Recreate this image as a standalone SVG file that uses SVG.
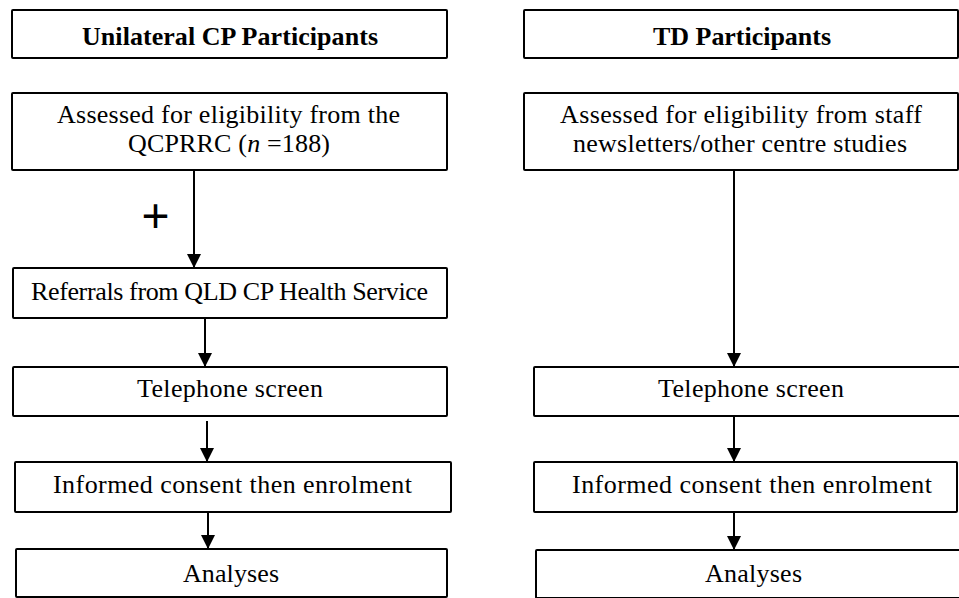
<svg xmlns="http://www.w3.org/2000/svg" width="959" height="598" viewBox="0 0 959 598">
<style>
.box{fill:#fff;stroke:#000;stroke-width:2}
.t{font-family:"Liberation Serif","Times New Roman",serif;font-size:26px;fill:#000}
.b{font-weight:bold}
.c{stroke:#000;stroke-width:2;fill:none}
</style>
<defs>
<marker id="ah" markerUnits="userSpaceOnUse" markerWidth="16" markerHeight="14" refX="14" refY="7" orient="auto">
<path d="M0,0 L14,7 L0,14 Z" fill="#000"/>
</marker>
</defs>
<rect width="959" height="598" fill="#fff"/>
<g id="connectors">
<line class="c" x1="194" y1="170" x2="194" y2="268" marker-end="url(#ah)"/>
<line class="c" x1="205" y1="318" x2="205" y2="367" marker-end="url(#ah)"/>
<line class="c" x1="207" y1="421" x2="207" y2="462" marker-end="url(#ah)"/>
<line class="c" x1="208" y1="512" x2="208" y2="549" marker-end="url(#ah)"/>
<line class="c" x1="734" y1="170" x2="734" y2="367" marker-end="url(#ah)"/>
<line class="c" x1="734" y1="416" x2="734" y2="462" marker-end="url(#ah)"/>
<line class="c" x1="734" y1="512" x2="734" y2="550" marker-end="url(#ah)"/>
</g>
<g id="plus">
<text x="155.5" y="232" text-anchor="middle" style="font-family:'Liberation Sans',Arial,sans-serif;font-size:48px">+</text>
</g>
<g id="cp-title">
<rect class="box" x="12" y="10" width="435" height="48" rx="1"/>
<text class="t b" x="82" y="45" textLength="296" lengthAdjust="spacing">Unilateral CP Participants</text>
</g>
<g id="cp-assessed">
<rect class="box" x="12" y="93" width="435" height="77" rx="1"/>
<text class="t" x="57" y="123" textLength="343" lengthAdjust="spacing">Assessed for eligibility from the</text>
<text class="t" x="128" y="152" textLength="202" lengthAdjust="spacing">QCPRRC (<tspan font-style="italic">n</tspan> =188)</text>
</g>
<g id="cp-referrals">
<rect class="box" x="13" y="268" width="434" height="50" rx="1"/>
<text class="t" x="31" y="300" textLength="397" lengthAdjust="spacing">Referrals from QLD CP Health Service</text>
</g>
<g id="cp-telephone">
<rect class="box" x="13" y="367" width="434" height="49" rx="1"/>
<text class="t" x="137" y="397" textLength="186" lengthAdjust="spacing">Telephone screen</text>
</g>
<g id="cp-consent">
<rect class="box" x="15" y="462" width="436" height="50" rx="1"/>
<text class="t" x="53" y="493" textLength="359" lengthAdjust="spacing">Informed consent then enrolment</text>
</g>
<g id="cp-analyses">
<rect class="box" x="16" y="549" width="431" height="48" rx="1"/>
<text class="t" x="183" y="582" textLength="96" lengthAdjust="spacing">Analyses</text>
</g>
<g id="td-title">
<rect class="box" x="524" y="10" width="434" height="48" rx="1"/>
<text class="t b" x="653" y="45" textLength="178" lengthAdjust="spacing">TD Participants</text>
</g>
<g id="td-assessed">
<rect class="box" x="524" y="93" width="434" height="77" rx="1"/>
<text class="t" x="560" y="123" textLength="362" lengthAdjust="spacing">Assessed for eligibility from staff</text>
<text class="t" x="573" y="152" textLength="334" lengthAdjust="spacing">newsletters/other centre studies</text>
</g>
<g id="td-telephone">
<rect class="box" x="534" y="367" width="430" height="49" rx="1"/>
<text class="t" x="658" y="397" textLength="186" lengthAdjust="spacing">Telephone screen</text>
</g>
<g id="td-consent">
<rect class="box" x="534" y="462" width="423" height="50" rx="1"/>
<text class="t" x="572" y="493" textLength="360" lengthAdjust="spacing">Informed consent then enrolment</text>
</g>
<g id="td-analyses">
<rect class="box" x="536" y="550" width="430" height="48" rx="1"/>
<text class="t" x="705" y="582" textLength="97" lengthAdjust="spacing">Analyses</text>
</g>
</svg>
